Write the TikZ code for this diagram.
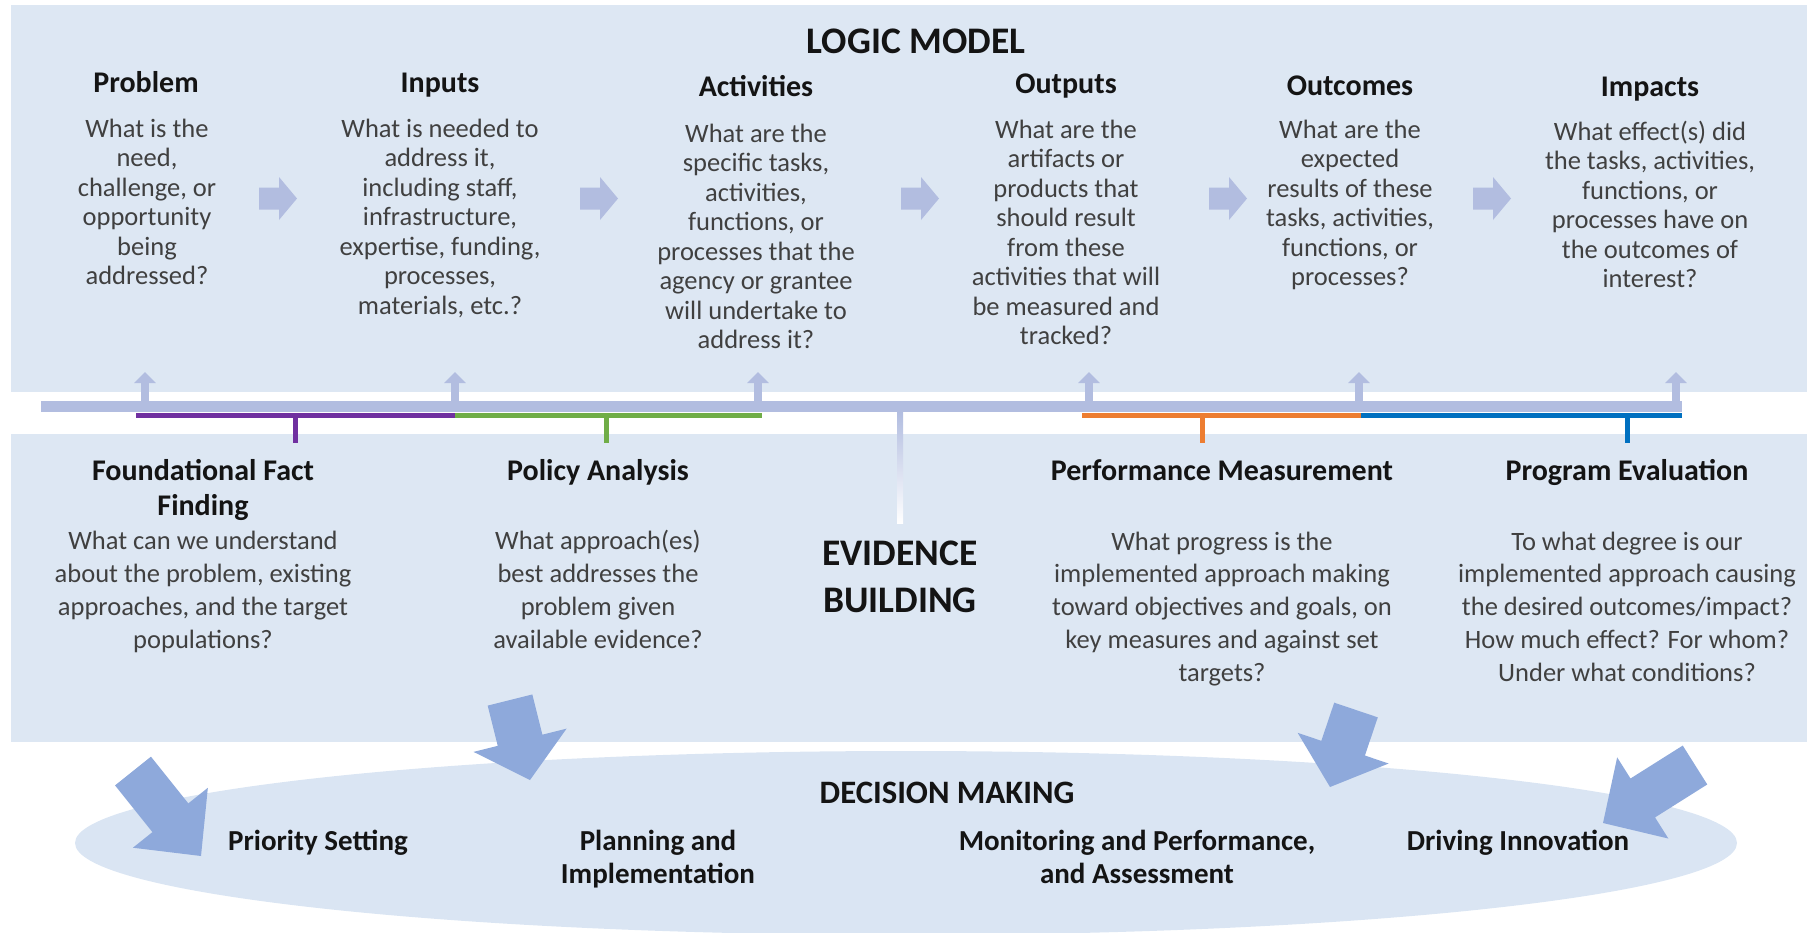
\documentclass[tikz,border=0pt]{standalone}
\usepackage{fontspec}
\setmainfont{Carlito}
\usetikzlibrary{calc,arrows.meta}
\definecolor{panel}{RGB}{221,231,243}
\definecolor{ellfill}{RGB}{218,229,243}
\definecolor{lav}{RGB}{178,189,224}
\definecolor{bigblue}{RGB}{142,169,219}
\definecolor{purp}{RGB}{112,48,160}
\definecolor{grn}{RGB}{112,173,71}
\definecolor{orng}{RGB}{237,125,49}
\definecolor{blu}{RGB}{0,112,192}
\definecolor{bodygray}{RGB}{64,64,64}
\definecolor{headblack}{RGB}{20,20,20}
\newcommand\blockarr[4]{%
  \coordinate (#1t) at #2; \coordinate (#1h) at #3;
  \coordinate (#1b) at ($(#1h)!#4pt!(#1t)$);
  \fill[bigblue] ($(#1t)!23pt!90:(#1h)$) -- ($(#1b)!23pt!-90:(#1t)$) -- ($(#1b)!48pt!-90:(#1t)$) -- (#1h) -- ($(#1b)!48pt!90:(#1t)$) -- ($(#1b)!23pt!90:(#1t)$) -- ($(#1t)!23pt!-90:(#1h)$) -- cycle;}
\tikzset{
  hdr/.style={anchor=base, align=center, inner sep=0pt, text=headblack, font=\bfseries\fontsize{30}{35}\selectfont},
  body/.style={anchor=base, align=center, inner sep=0pt, text=bodygray, font=\fontsize{26.5}{29.5}\selectfont},
  lbody/.style={anchor=base, align=center, inner sep=0pt, text=bodygray, font=\fontsize{26.5}{32.7}\selectfont},
  bigtitle/.style={anchor=base, align=center, inner sep=0pt, text=headblack, font=\bfseries\fontsize{37.5}{47}\selectfont},
  dectitle/.style={anchor=base, align=center, inner sep=0pt, text=headblack, font=\bfseries\fontsize{32.7}{40}\selectfont},
  dec/.style={anchor=base, align=center, inner sep=0pt, text=headblack, font=\bfseries\fontsize{29}{33}\selectfont},
  upar/.style={draw=lav, line width=7.6pt, -{Triangle[width=21pt,length=11pt,fill=lav]}},
  cline/.style={line width=5pt},
  rarrow/.pic={\fill[lav] (0,-11) -- (20,-11) -- (20,-21.5) -- (38,0) -- (20,21.5) -- (20,11) -- (0,11) -- cycle;}
}
\begin{document}
\begin{tikzpicture}[x=1pt,y=-1pt]
\useasboundingbox (0,0) rectangle (1807,932);
\clip (0,0) rectangle (1807,932);
% panels
\fill[panel] (11,5) rectangle (1807,392);
\fill[panel] (11,434) rectangle (1807,742);
\fill[ellfill] (906,843) ellipse [x radius=831, y radius=92];
% big arrows
\blockarr{aa}{(133,771)}{(201,856)}{49}
\blockarr{ab}{(510,700)}{(530,780)}{41}
\blockarr{ac}{(1356,710)}{(1330,787)}{41}
\blockarr{ad}{(1695,765)}{(1603,823)}{47}
% small right arrows
\pic at (259,198.5) {rarrow};
\pic at (580,198.5) {rarrow};
\pic at (901,198.5) {rarrow};
\pic at (1209,198.5) {rarrow};
\pic at (1473,198.5) {rarrow};
% bar
\node[fill=lav, minimum width=1641pt, minimum height=11pt, inner sep=0pt] (bar) at (861.5,406.5) {};
% up arrows
\foreach \n/\x in {u1/145,u2/455,u3/758,u4/1089,u5/1359,u6/1676}{
  \coordinate (\n) at (\x,404);
  \coordinate (\n t) at (\x,372);
  \draw[upar] (\n) -- (\n t);
}
% evidence line
\shade[top color=lav, bottom color=white] (897,412) rectangle (903,523);
% coloured brackets
\draw[cline, purp] (136,415.5) -- (455,415.5);
\draw[cline, purp] (295,415.5) -- (295,443);
\draw[cline, grn] (455,415.5) -- (762,415.5);
\draw[cline, grn] (606,415.5) -- (606,443);
\draw[cline, orng] (1082,415.5) -- (1361,415.5);
\draw[cline, orng] (1202,415.5) -- (1202,443);
\draw[cline, blu] (1361,415.5) -- (1682,415.5);
\draw[cline, blu] (1627,415.5) -- (1627,443);
% logic model (anchor=base: baseline of the last line)
\node[bigtitle] (lm) at (916,53) {LOGIC MODEL};
\node[hdr] (hprob) at (146,92) {Problem};
\node[hdr] (hinp) at (440,92) {Inputs};
\node[hdr] (hact) at (756,96) {Activities};
\node[hdr] (hout) at (1066,93) {Outputs};
\node[hdr] (hoc) at (1350,95) {Outcomes};
\node[hdr] (himp) at (1650,96) {Impacts};
\node[body] (bprob) at (147,284.5) {What is the\\need,\\challenge, or\\opportunity\\being\\addressed?};
\node[body] (binp) at (440,314) {What is needed to\\address it,\\including staff,\\infrastructure,\\expertise, funding,\\processes,\\materials, etc.?};
\node[body] (bact) at (756,348.5) {What are the\\specific tasks,\\activities,\\functions, or\\processes that the\\agency or grantee\\will undertake to\\address it?};
\node[body] (bout) at (1066,344.5) {What are the\\artifacts or\\products that\\should result\\from these\\activities that will\\be measured and\\tracked?};
\node[body] (boc) at (1350,285.5) {What are the\\expected\\results of these\\tasks, activities,\\functions, or\\processes?};
\node[body] (bimp) at (1650,287.5) {What effect(s) did\\the tasks, activities,\\functions, or\\processes have on\\the outcomes of\\interest?};
% evidence building
\node[hdr] (hff) at (203,515) {Foundational Fact\\Finding};
\node[lbody] (bff) at (203,648) {What can we understand\\about the problem, existing\\approaches, and the target\\populations?};
\node[hdr] (hpa) at (598,480) {Policy Analysis};
\node[lbody] (bpa) at (598,648) {What approach(es)\\best addresses the\\problem given\\available evidence?};
\node[bigtitle] (eb) at (900,612) {EVIDENCE\\BUILDING};
\node[hdr] (hpm) at (1222,480) {Performance Measurement};
\node[lbody] (bpm) at (1222,681) {What progress is the\\implemented approach making\\toward objectives and goals, on\\key measures and against set\\targets?};
\node[hdr] (hpe) at (1627,480) {Program Evaluation};
\node[lbody] (bpe) at (1627,681) {To what degree is our\\implemented approach causing\\the desired outcomes/impact?\\How much effect? For whom?\\Under what conditions?};
% decision making
\node[dectitle] (dm) at (947,803) {DECISION MAKING};
\node[dec] (d1) at (318,850) {Priority Setting};
\node[dec] (d2) at (658,883) {Planning and\\Implementation};
\node[dec] (d3) at (1137,883) {Monitoring and Performance,\\and Assessment};
\node[dec] (d4) at (1518,850) {Driving Innovation};
\end{tikzpicture}
\end{document}
